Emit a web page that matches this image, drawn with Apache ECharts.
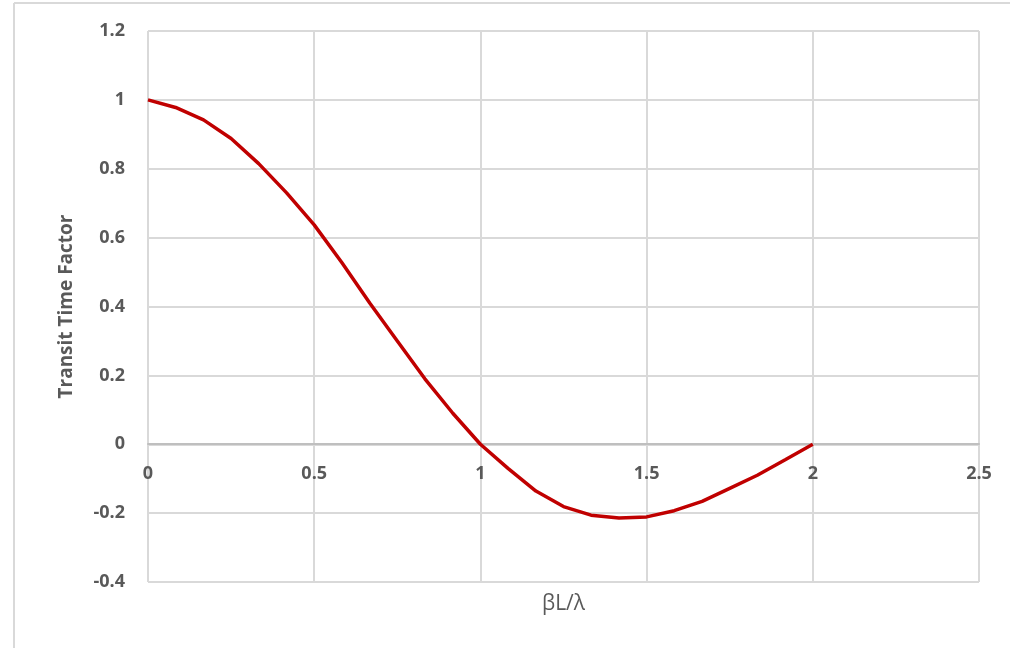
<!DOCTYPE html>
<html>
<head>
<meta charset="utf-8">
<script src="https://cdn.jsdelivr.net/npm/echarts@6/dist/echarts.min.js"></script>
<style>
  html, body { margin: 0; padding: 0; background: #fff; }
  #chart { width: 1010px; height: 648px; }
</style>
</head>
<body>
<div id="chart"></div>
<script>
// beta*L/lambda values and transit time factor
const ratioValues = [0, 0.083, 0.167, 0.25, 0.333, 0.417, 0.5, 0.583, 0.667, 0.75, 0.833, 0.917,
  1, 1.083, 1.167, 1.25, 1.333, 1.417, 1.5, 1.583, 1.667, 1.75, 1.833, 1.917, 2];
const factorValues = [1, 0.978, 0.942, 0.888, 0.815, 0.73, 0.637, 0.528, 0.41, 0.3, 0.19, 0.09,
  0, -0.07, -0.136, -0.181, -0.206, -0.214, -0.211, -0.193, -0.166, -0.128, -0.09, -0.045, 0];

let chartDom = document.getElementById("chart");
let myChart = echarts.init(chartDom, null, { renderer: "canvas" });

const labelColor = "#595959";
const gridColor = "#d9d9d9";
const font = "'Open Sans', 'Liberation Sans', sans-serif";

let points = ratioValues.map(function (x, i) {
  return [x, factorValues[i]];
});

// the x axis sits on y = 0, so lift it from the grid bottom by hand
const xAxisLift = -138;

let option = {
  backgroundColor: "#fff",
  animation: false,
  grid: { left: 148, right: 31, top: 31, bottom: 66, outerBoundsMode: "none", containLabel: false },
  graphic: [
    {
      type: "line",
      shape: { x1: 14, y1: 3, x2: 1010, y2: 3 },
      style: { stroke: gridColor, lineWidth: 2 },
    },
    {
      type: "line",
      shape: { x1: 14, y1: 3, x2: 14, y2: 648 },
      style: { stroke: gridColor, lineWidth: 2 },
    },
  ],
  xAxis: {
    type: "value",
    min: 0,
    max: 2.5,
    interval: 0.5,
    offset: xAxisLift,
    name: "βL/λ",
    nameLocation: "middle",
    nameGap: 150,
    nameTextStyle: { color: labelColor, fontSize: 21, fontFamily: font },
    axisLine: { onZero: false, lineStyle: { color: "#bfbfbf", width: 2 } },
    axisTick: { show: false },
    axisLabel: {
      color: labelColor,
      fontSize: 18,
      fontWeight: "bold",
      fontFamily: font,
      margin: 21,
    },
    splitLine: { show: true, lineStyle: { color: gridColor, width: 2 } },
  },
  yAxis: {
    type: "value",
    min: -0.4,
    max: 1.2,
    interval: 0.2,
    name: "Transit Time Factor",
    nameLocation: "middle",
    nameGap: 72,
    nameTextStyle: { color: labelColor, fontSize: 19, fontWeight: "bold", fontFamily: font },
    axisLine: { show: false },
    axisTick: { show: false },
    axisLabel: {
      color: labelColor,
      fontSize: 18,
      fontWeight: "bold",
      fontFamily: font,
      margin: 23,
      formatter: function (v) {
        return String(Math.round(v * 10) / 10);
      },
    },
    splitLine: { show: true, lineStyle: { color: gridColor, width: 2 } },
  },
  series: [
    {
      type: "line",
      data: points,
      showSymbol: false,
      symbol: "none",
      smooth: false,
      lineStyle: { color: "#c00000", width: 3.5 },
      z: 5,
    },
  ],
};

myChart.setOption(option);
</script>
</body>
</html>
